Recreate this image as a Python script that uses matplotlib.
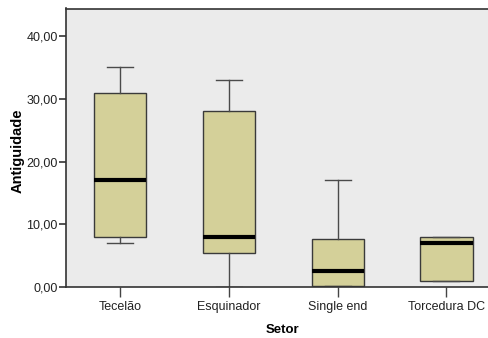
import matplotlib
matplotlib.use("Agg")
import matplotlib.pyplot as plt
from matplotlib import font_manager

# Five-number summaries of "Antiguidade" per sector
setores = ["Tecelão", "Esquinador", "Single end", "Torcedura DC"]
whisker_low = [7.0, 0.0, 0.2, 1.0]
q1 = [8.0, 5.5, 0.2, 1.0]
mediana = [17.0, 8.0, 2.5, 7.0]
q3 = [31.0, 28.0, 7.7, 8.0]
whisker_high = [35.0, 33.0, 17.0, 8.0]
yticks = [0, 10, 20, 30, 40]

names = {f.name for f in font_manager.fontManager.ttflist}
family = ["Liberation Sans Narrow"] if "Liberation Sans Narrow" in names else ["Liberation Sans", "DejaVu Sans"]
plt.rcParams["font.family"] = family + ["DejaVu Sans"]

fig = plt.figure(figsize=(4.88, 3.38), dpi=100)
ax = fig.add_axes([66 / 488, 1 - 287 / 338, 1 - 66 / 488 + 0.01, (287 - 8.5) / 338])
ax.set_facecolor("#ebebeb")

stats = []
for i, nome in enumerate(setores):
    stats.append(dict(label=nome, whislo=whisker_low[i], q1=q1[i], med=mediana[i],
                      q3=q3[i], whishi=whisker_high[i], fliers=[]))

ax.bxp(stats, positions=range(len(setores)), widths=0.48, showfliers=False,
       patch_artist=True,
       boxprops=dict(facecolor="#d4d099", edgecolor="#3a3a3a", linewidth=1.0),
       medianprops=dict(color="black", linewidth=3.0, solid_capstyle="butt"),
       whiskerprops=dict(color="#4a4a4a", linewidth=1.0),
       capprops=dict(color="#4a4a4a", linewidth=1.0),
       capwidths=0.24)

ax.set_xlim(-0.5, (488 - 120) / 108 + 0.02)
ax.set_ylim(0, (286 - 8.5) / 6.25)
ax.set_yticks(yticks)
ax.set_yticklabels([f"{v:.2f}".replace(".", ",") for v in yticks])
ax.set_xticks(range(len(setores)))
ax.set_xticklabels(setores)

ax.spines["right"].set_visible(False)
for s in ["left", "bottom", "top"]:
    ax.spines[s].set_color("#333333")
    ax.spines[s].set_linewidth(1.2)
ax.tick_params(axis="y", direction="out", length=5, width=1.2, color="#333333",
               labelsize=9, labelcolor="#222222", pad=1)
ax.tick_params(axis="x", direction="out", length=7, width=1.0, color="#444444",
               labelsize=9, labelcolor="#222222", pad=3)

ax.set_xlabel("Setor", fontsize=9.5, fontweight="bold")
ax.set_ylabel("Antiguidade", fontsize=10.5, fontweight="bold")
ax.xaxis.set_label_coords((282 - 66) / (fig.bbox.width * ax.get_position().width), -43 / (287 - 8.5))
ax.yaxis.set_label_coords(-(66 - 18) / (fig.bbox.width * ax.get_position().width), (287 - 151) / (287 - 8.5))
ax.xaxis.label.set_verticalalignment("center")
ax.yaxis.label.set_verticalalignment("center")

fig.savefig("out.png", dpi=100, facecolor="white")
